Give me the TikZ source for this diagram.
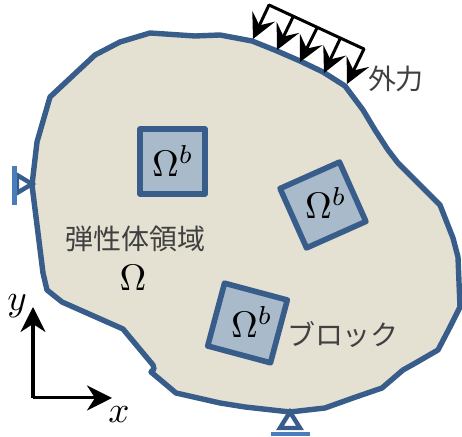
\documentclass[tikz,border=0pt]{standalone}
\usepackage{fontspec}
\usetikzlibrary{arrows.meta}
\newfontfamily\cjk{Noto Sans CJK JP}
\newlength{\du}
\setlength{\du}{0.5pt}
\definecolor{bodycolor}{HTML}{E4E1D2}
\definecolor{edgecolor}{HTML}{385D8A}
\definecolor{blockcolor}{HTML}{A9BBCB}
\definecolor{supportcolor}{HTML}{4A7EBB}
\tikzset{
  outline/.style={draw=edgecolor,fill=bodycolor,line width=2.7pt,line join=round},
  blockbox/.style={draw=edgecolor,fill=blockcolor,line width=2.8pt,line join=round,minimum size=32.5pt,inner sep=0pt},
  loadarrow/.style={line width=1.5pt,-{Stealth[length=12.5pt,width=12.5pt,inset=5pt]}},
  axisarrow/.style={line width=1.5pt,-{Stealth[length=12.5pt,width=12.5pt,inset=4pt]}},
  support/.style={draw=edgecolor,fill=white,line width=2.2pt,line join=miter},
  supportbar/.style={draw=supportcolor,line width=2.4pt},
  jptext/.style={font=\cjk\fontsize{14}{16}\selectfont\color{black!75},inner sep=0pt},
  mathtext/.style={scale=1.85,inner sep=0pt}
}
\begin{document}
\begin{tikzpicture}[x=\du,y=-\du]
\useasboundingbox (0,0) rectangle (462,437);
% body
\draw[outline] (150,33) -- (195,36) -- (220,35) -- (252,41) -- (277,51) -- (300,61) -- (323,72)
  -- (345,86) -- (363,110) -- (375,130) -- (388,150) -- (398,163) -- (440,205) -- (453,238)
  -- (458,257) -- (460,307) -- (450,327) -- (438,350) -- (412,365) -- (403,370) -- (382,388)
  -- (353,398) -- (325,408) -- (290,412) -- (245,407) -- (220,403) -- (176,393) -- (151,372)
  -- (154,369) -- (153,365) -- (123,329) -- (62,302) -- (47,290) -- (43,273) -- (32,185) -- (37,142)
  -- (50,97) -- (95,55) -- (120,42) -- cycle;
% blocks
\node[blockbox] (blockA) at (172.5,161.5) {};
\node[blockbox,rotate=24] (blockB) at (323,205) {};
\node[blockbox,rotate=-15] (blockC) at (247.5,323) {};
\node[mathtext] (omegaA) at (173,161) {$\Omega^b$};
\node[mathtext] (omegaB) at (326,203) {$\Omega^b$};
\node[mathtext] (omegaC) at (252,322) {$\Omega^b$};
% labels
\node[jptext] (bodyname) at (136,239) {弾性体領域};
\node[mathtext] (omega) at (133,278) {$\Omega$};
\node[jptext] (blockname) at (343,335) {ブロック};
\node[jptext] (loadname) at (396,79) {外力};
% load
\coordinate (loadA) at (269,5);
\coordinate (loadB) at (293,17);
\coordinate (loadC) at (317,28);
\coordinate (loadD) at (340,39);
\coordinate (loadE) at (364,49);
\coordinate (tipA) at (253,39);
\coordinate (tipB) at (277,50);
\coordinate (tipC) at (300,62);
\coordinate (tipD) at (324,73);
\coordinate (tipE) at (347,84);
\draw[line width=1.5pt,line cap=round] (loadA) -- (loadE);
\draw[loadarrow] (loadA) -- (tipA);
\draw[loadarrow] (loadB) -- (tipB);
\draw[loadarrow] (loadC) -- (tipC);
\draw[loadarrow] (loadD) -- (tipD);
\draw[loadarrow] (loadE) -- (tipE);
% supports
\draw[support] (32,184) -- (17,175) -- (17,193) -- cycle;
\draw[supportbar] (14.5,166) -- (14.5,205);
\draw[support] (290,412) -- (280,428) -- (300,428) -- cycle;
\draw[supportbar] (271,434) -- (310,434);
% axes
\coordinate (origin) at (33,398);
\coordinate (xend) at (112,398);
\coordinate (yend) at (33,307);
\draw[axisarrow] (origin) -- (xend);
\draw[axisarrow] (origin) -- (yend);
\node[mathtext] (xname) at (119,415) {$x$};
\node[mathtext] (yname) at (17,306) {$y$};
\end{tikzpicture}
\end{document}
